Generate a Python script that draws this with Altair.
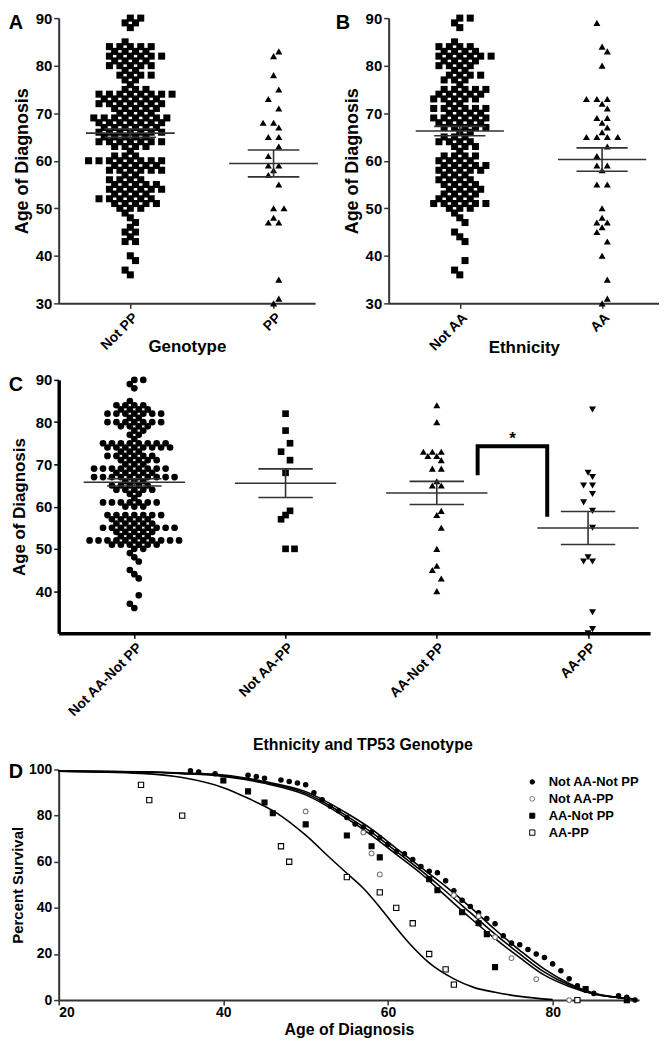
import altair as alt
import pandas as pd
from collections import Counter

FONT = "Liberation Sans"

# ---------------- Panel A (Genotype) ----------------
notpp_ages = [90, 89, 88, 85, 84, 83, 82, 81, 80, 79, 78, 77, 76, 75, 74, 73, 72, 71, 70, 69,
              68, 67, 66, 65, 64, 63, 62, 61, 60, 59, 58, 57, 56, 55, 54, 53, 52, 51, 50, 49,
              48, 47, 46, 45, 44, 43, 40, 39, 37, 36]
notpp_counts = [2, 2, 1, 1, 5, 4, 6, 4, 5, 2, 4, 2, 1, 3, 8, 6, 7, 5, 4, 8,
                7, 6, 7, 5, 7, 4, 1, 3, 8, 5, 6, 2, 4, 5, 6, 4, 6, 5, 3, 1,
                1, 1, 1, 2, 1, 2, 1, 1, 1, 1]
pp_values = [83, 82, 78, 75, 73, 71, 68, 68, 67, 65, 65, 63, 61, 59, 59, 58, 57, 55, 50, 50,
             48, 47, 47, 35, 31, 30]
a_cats = ["Not PP", "PP"]

# ---------------- Panel B (Ethnicity) ----------------
notaa_ages = [90, 89, 88, 85, 84, 83, 82, 81, 80, 79, 78, 77, 76, 75, 74, 73, 72, 71, 70, 69,
              68, 67, 66, 65, 64, 63, 62, 61, 60, 59, 58, 57, 56, 55, 54, 53, 52, 51, 50, 49,
              48, 47, 45, 44, 43, 39, 37, 36]
notaa_counts = [2, 1, 1, 1, 4, 4, 6, 4, 4, 2, 4, 3, 1, 5, 5, 5, 2, 6, 4, 6,
                5, 5, 2, 3, 4, 3, 1, 4, 4, 5, 5, 3, 4, 4, 4, 4, 4, 6, 3, 1,
                1, 1, 1, 1, 1, 1, 1, 1]
aa_values = [89, 84, 83, 80, 73, 73, 73, 72, 71, 69, 69, 68, 67, 66, 65, 65, 65, 65, 63, 61,
             59, 59, 58, 55, 55, 50, 48, 47, 47, 46, 45, 43, 40, 35, 31, 30]
b_cats = ["Not AA", "AA"]

# ---------------- Panel C (Ethnicity x Genotype) ----------------
c1_ages = [90, 89, 88, 85, 84, 83, 82, 81, 80, 79, 78, 77, 76, 75, 74, 73, 72, 71, 70, 69,
           68, 67, 66, 65, 64, 63, 62, 61, 60, 58, 57, 56, 55, 54, 53, 52, 51, 50, 49, 48,
           47, 45, 44, 43, 39, 37, 36]
c1_counts = [2, 1, 1, 1, 4, 4, 7, 2, 7, 4, 2, 2, 1, 8, 8, 3, 6, 5, 3, 9,
             5, 10, 3, 5, 5, 2, 1, 7, 3, 7, 5, 5, 9, 5, 4, 11, 6, 2, 1, 1,
             1, 1, 1, 1, 1, 1, 1]
c2_values = [82, 78, 75, 73, 71, 68, 59, 58, 57, 50, 50]
c3_values = [84, 80, 73, 73, 73, 72, 72, 71, 69, 69, 66, 65, 65, 59, 58, 55, 50, 46, 45, 43, 40]
c4_values = [83, 68, 67, 65, 65, 63, 61, 59, 55, 48, 47, 47, 35, 31, 30]
c_cats = ["Not AA-Not PP", "Not AA-PP", "AA-Not PP", "AA-PP"]
bracket_x = [2.27, 2.27, 2.73, 2.73]
bracket_y = [67.4, 74.3, 74.3, 57.6]
star_x = [2.5]
star_y = [76.0]

# ---------------- Panel D (survival) ----------------
d_series = ["Not AA-Not PP", "Not AA-PP", "AA-Not PP", "AA-PP"]
nn_age = [36, 37, 39, 43, 44, 45, 47, 48, 49, 50, 51, 52, 53, 54, 55, 56, 57, 58, 59, 60,
          61, 62, 63, 64, 65, 66, 67, 68, 69, 70, 71, 72, 73, 74, 75, 76, 77, 78, 79, 80,
          81, 82, 83, 84, 85, 88, 89, 90]
nn_surv = [99.4, 98.9, 98.2, 97.5, 96.9, 96.2, 95.4, 94.8, 94.1, 93.4, 89.9, 86.9, 84.1, 82.1,
           79.2, 76.4, 75.0, 72.9, 70.4, 67.5, 64.4, 63.5, 61.0, 57.9, 55.9, 55.2, 51.7, 47.4,
           43.3, 40.6, 37.9, 35.4, 33.1, 27.9, 24.7, 24.0, 21.9, 20.0, 18.5, 15.7, 12.7, 9.2,
           6.2, 4.3, 2.9, 1.9, 1.2, 0.0]
np_age = [50, 57, 58, 59, 68, 71, 73, 75, 78, 82]
np_surv = [81.8, 72.7, 63.6, 54.5, 45.5, 36.4, 27.3, 18.2, 9.1, 0.0]
an_age = [40, 43, 45, 46, 50, 55, 58, 59, 65, 66, 69, 71, 72, 73, 84, 89]
an_surv = [95.2, 90.5, 85.7, 81.0, 76.2, 71.4, 66.7, 61.9, 52.4, 47.6, 38.1, 33.3, 28.6, 14.3,
           4.8, 0.0]
ap_age = [30, 31, 35, 47, 48, 55, 59, 61, 63, 65, 67, 68, 83]
ap_surv = [93.3, 86.7, 80.0, 66.7, 60.0, 53.3, 46.7, 40.0, 33.3, 20.0, 13.3, 6.7, 0.0]

fit_age = [20, 30, 35, 40, 45, 50, 55, 58, 61, 64, 67, 70, 73, 76, 79, 82, 85, 90]
nn_fit = [99.3, 99.0, 98.5, 97.6, 94.8, 90.4, 81.0, 74.1, 65.8, 57.5, 49.3, 40.3, 30.6, 21.6,
          13.4, 7.2, 3.0, 0.5]
np_fit = [99.3, 98.9, 98.3, 97.3, 94.4, 89.7, 79.8, 72.7, 64.5, 56.2, 47.2, 37.9, 28.6, 20.0,
          12.1, 6.5, 2.8, 0.5]
an_fit = [99.3, 98.9, 98.2, 97.0, 94.0, 89.0, 78.8, 71.4, 63.2, 54.9, 45.2, 35.6, 26.6, 18.4,
          10.8, 5.9, 2.6, 0.5]
ap_fit_age = [20, 30, 35, 40, 43, 46.5, 50, 53, 55, 57, 59, 61, 63, 65, 68, 70.5, 73, 76, 80]
ap_fit = [99.3, 98.3, 96.5, 92.1, 87.5, 81.1, 71.5, 61.5, 55.0, 48.5, 40.3, 31.3, 23.0, 16.1,
          9.2, 5.4, 3.4, 1.6, 0.2]


# ---------------- helpers ----------------
def to_rows(values):
    c = Counter(values)
    ks = sorted(c, reverse=True)
    return ks, [c[k] for k in ks]


def swarm(ages, counts, g, spacing_px, ppu):
    """Row layout of a scatter dot plot: rows of adjacent ages are staggered by half a step."""
    out = []
    for a, n in zip(ages, counts):
        need_int = (a % 2 == 0)
        is_int = (n % 2 == 1)
        shift = 0.0
        if need_int != is_int:
            shift = 0.5 if (a // 2) % 2 else -0.5
        for k in range(n):
            off = (k - (n - 1) / 2 + shift) * spacing_px / ppu
            out.append({"g": g, "age": a, "pos": g + off})
    return out


def dot_panel(groups, cats, shapes, sizes, xdom, width, height, yticks, letter, letter_x,
              xtitle, spacing, mean_half, sem_half, thick=False, extra=None,
              ytitle_size=18, ytitle_pad=4, xtitle_pad=-14):
    ppu = width / (xdom[1] - xdom[0])
    rows = []
    for g, (ages, counts) in enumerate(groups):
        rows += swarm(ages, counts, g, spacing, ppu)
    df = pd.DataFrame(rows)
    dw = 3.5 if thick else 2
    dc = "black" if thick else "#333"
    xs = alt.Scale(domain=xdom, nice=False, zero=False)
    ys = alt.Scale(domain=[30, 90], nice=False, zero=False)
    label_expr = "[" + ",".join("'%s'" % c for c in cats) + "][datum.value]"
    xaxis = alt.Axis(values=list(range(len(cats))), labelExpr=label_expr, labelAngle=-45,
                     labelAlign="right", labelBaseline="top", labelFont=FONT,
                     labelFontSize=14, labelFontWeight="bold", labelColor="black",
                     labelPadding=2, title=xtitle, titleFont=FONT, titleFontSize=17,
                     titleFontWeight="bold", titleColor="black", titlePadding=xtitle_pad,
                     grid=False, domainColor=dc, domainWidth=dw, tickColor=dc,
                     tickWidth=1.5, tickSize=5)
    yaxis = alt.Axis(values=yticks, title="Age of Diagnosis", titleFont=FONT,
                     titleFontSize=ytitle_size, titleFontWeight="bold", titleColor="black",
                     titlePadding=ytitle_pad, labelFont=FONT, labelFontSize=15,
                     labelFontWeight="bold", labelColor="black", labelPadding=2, grid=False,
                     domainColor=dc, domainWidth=dw, tickColor=dc, tickWidth=1.5, tickSize=5)

    def X(f):
        return alt.X(f, type="quantitative", scale=xs, axis=xaxis)

    def Y(f):
        return alt.Y(f, type="quantitative", scale=ys, axis=yaxis)

    layers = []
    for g in range(len(cats)):
        sub = df[df["g"] == g]
        layers.append(
            alt.Chart(sub).mark_point(filled=True, color="black", opacity=1,
                                      shape=shapes[g], size=sizes[g]).encode(
                x=X("pos"), y=Y("age")))
    stats = alt.Chart(df).transform_aggregate(
        m="mean(age)", s="stderr(age)", groupby=["g"]
    ).transform_calculate(
        lo="datum.m - datum.s", hi="datum.m + datum.s",
        a1="datum.g - %f" % mean_half, a2="datum.g + %f" % mean_half,
        b1="datum.g - %f" % sem_half, b2="datum.g + %f" % sem_half,
    )
    rc = "#333"
    layers.append(stats.mark_rule(color=rc, strokeWidth=1.6).encode(
        x=X("a1"), x2=alt.X2("a2"), y=Y("m")))
    layers.append(stats.mark_rule(color=rc, strokeWidth=1.6).encode(
        x=X("b1"), x2=alt.X2("b2"), y=Y("lo")))
    layers.append(stats.mark_rule(color=rc, strokeWidth=1.6).encode(
        x=X("b1"), x2=alt.X2("b2"), y=Y("hi")))
    layers.append(stats.mark_rule(color=rc, strokeWidth=1.6).encode(
        x=X("g"), y=Y("lo"), y2=alt.Y2("hi")))
    layers.append(alt.Chart(pd.DataFrame({"t": [letter]})).mark_text(
        font=FONT, fontSize=20, fontWeight="bold", align="center", baseline="middle",
        color="black").encode(text="t:N", x=alt.value(letter_x), y=alt.value(5)))
    if extra is not None:
        layers += extra(X, Y)
    return alt.layer(*layers).properties(width=width, height=height)


# ---------------- build A, B, C ----------------
panel_a = dot_panel([(notpp_ages, notpp_counts), to_rows(pp_values)], a_cats,
                    ["square", "triangle-up"], [50, 50], [-0.5, 1.29], 258, 287,
                    [30, 40, 50, 60, 70, 80, 90], "A", -43, "Genotype",
                    10.5, 0.31, 0.18)

panel_b = dot_panel([(notaa_ages, notaa_counts), to_rows(aa_values)], b_cats,
                    ["square", "triangle-up"], [50, 50], [-0.5, 1.40], 272, 287,
                    [30, 40, 50, 60, 70, 80, 90], "B", -46, "Ethnicity",
                    10.5, 0.31, 0.18)


def bracket(X, Y):
    bdf = pd.DataFrame({"bx": bracket_x, "by": bracket_y, "o": list(range(len(bracket_x)))})
    line = alt.Chart(bdf).mark_line(color="black", strokeWidth=4, strokeJoin="miter").encode(
        x=X("bx"), y=Y("by"), order="o:Q")
    sdf = pd.DataFrame({"sx": star_x, "sy": star_y, "t": ["*"]})
    star = alt.Chart(sdf).mark_text(font=FONT, fontSize=17, fontWeight="bold", color="black",
                                    baseline="middle").encode(x=X("sx"), y=Y("sy"), text="t:N")
    return [line, star]


panel_c = dot_panel([(c1_ages, c1_counts), to_rows(c2_values), to_rows(c3_values),
                     to_rows(c4_values)], c_cats,
                    ["circle", "square", "triangle-up", "triangle-down"], [45, 45, 50, 50],
                    [-0.5, 3.41], 595, 255, [40, 50, 60, 70, 80, 90], "C", -43, None,
                    9.0, 0.335, 0.18, thick=True, extra=bracket, ytitle_size=17,
                    ytitle_pad=7, xtitle_pad=0)

# ---------------- build D ----------------
pts_rows = []
for name, ag, sv in [(d_series[0], nn_age, nn_surv), (d_series[1], np_age, np_surv),
                     (d_series[2], an_age, an_surv), (d_series[3], ap_age, ap_surv)]:
    for a, s in zip(ag, sv):
        pts_rows.append({"series": name, "age": a, "surv": s})
dpts = pd.DataFrame(pts_rows)

fit_rows = []
for name, ag, sv in [(d_series[0], fit_age, nn_fit), (d_series[1], fit_age, np_fit),
                     (d_series[2], fit_age, an_fit), (d_series[3], ap_fit_age, ap_fit)]:
    for a, s in zip(ag, sv):
        fit_rows.append({"series": name, "age": a, "surv": s})
dfit = pd.DataFrame(fit_rows)

dxs = alt.Scale(domain=[20, 90.5], nice=False, zero=False)
dys = alt.Scale(domain=[0, 100], nice=False)
dxaxis = alt.Axis(values=[20, 40, 60, 80], title="Age of Diagnosis", titleFont=FONT,
                  titleFontSize=16, titleFontWeight="bold", titleColor="black", titlePadding=2,
                  labelFont=FONT, labelFontSize=14, labelFontWeight="bold", labelColor="black",
                  grid=False, domainColor="#333", domainWidth=2, tickColor="#333",
                  tickWidth=1.5, tickSize=5, labelPadding=1)
dyaxis = alt.Axis(values=[0, 20, 40, 60, 80, 100], title="Percent Survival", titleFont=FONT,
                  titleFontSize=15, titleFontWeight="bold", titleColor="black", titlePadding=3,
                  labelFont=FONT, labelFontSize=14, labelFontWeight="bold", labelColor="black",
                  grid=False, domainColor="#333", domainWidth=2, tickColor="#333",
                  tickWidth=1.5, tickSize=5, labelPadding=2)

leg = alt.Legend(title=None, orient="none", legendX=470, legendY=6, labelFont=FONT,
                 labelFontSize=13, labelFontWeight="bold", labelColor="black",
                 symbolStrokeWidth=1, rowPadding=3, labelOffset=10, padding=0)

lines_d = alt.Chart(dfit).mark_line(color="black", strokeWidth=1.6, interpolate="monotone").encode(
    x=alt.X("age:Q", scale=dxs, axis=dxaxis), y=alt.Y("surv:Q", scale=dys, axis=dyaxis),
    detail="series:N")
pts_d = alt.Chart(dpts).mark_point(opacity=1, strokeWidth=1.1).encode(
    x=alt.X("age:Q", scale=dxs, axis=dxaxis), y=alt.Y("surv:Q", scale=dys, axis=dyaxis),
    shape=alt.Shape("series:N", scale=alt.Scale(domain=d_series,
                    range=["circle", "circle", "square", "square"]), legend=leg),
    fill=alt.Fill("series:N", scale=alt.Scale(domain=d_series,
                  range=["black", "white", "black", "white"]), legend=leg),
    stroke=alt.Stroke("series:N", scale=alt.Scale(domain=d_series,
                      range=["black", "#777777", "black", "black"]), legend=leg),
    size=alt.Size("series:N", scale=alt.Scale(domain=d_series, range=[20, 28, 30, 36]),
                  legend=leg),
)
let_d = alt.Chart(pd.DataFrame({"t": ["D"]})).mark_text(
    font=FONT, fontSize=20, fontWeight="bold", align="center", baseline="middle",
    color="black").encode(text="t:N", x=alt.value(-43), y=alt.value(3))

panel_d = alt.layer(lines_d, pts_d, let_d).properties(
    width=584, height=232,
    title=alt.TitleParams("Ethnicity and TP53 Genotype", font=FONT, fontSize=16,
                          fontWeight="bold", color="black", anchor="middle", frame="group",
                          offset=10, dx=14),
)

top = alt.hconcat(panel_a, panel_b, spacing=16)
chart = alt.vconcat(top, panel_c, panel_d, spacing=17).resolve_scale(
    shape="independent", fill="independent", stroke="independent", size="independent"
).resolve_legend(
    shape="independent", fill="independent", stroke="independent", size="independent"
).properties(
    padding={"left": 0, "top": 0, "right": 0, "bottom": 0}
).configure_view(stroke=None)

chart.save("out.html", embed_options={"renderer": "svg", "actions": False})
